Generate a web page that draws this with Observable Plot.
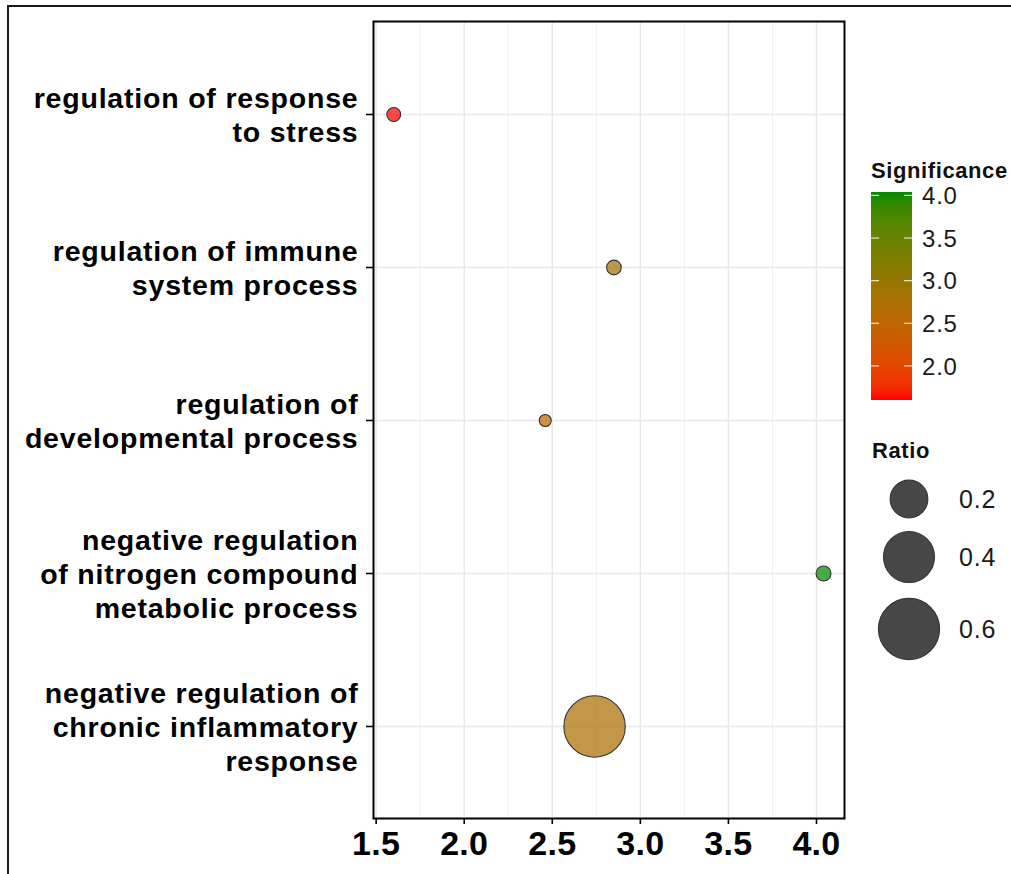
<!DOCTYPE html>
<html>
<head>
<meta charset="utf-8">
<script src="https://cdn.jsdelivr.net/npm/d3@7"></script>
<script src="https://cdn.jsdelivr.net/npm/@observablehq/plot@0.6"></script>
<style>
  html, body { margin: 0; padding: 0; background: #fff; overflow: hidden; }
  #wrap { position: relative; width: 1011px; height: 874px; }
  #frame { position: absolute; left: 7px; top: 5px; width: 1010px; height: 874px;
           border-left: 2px solid #1a1a1a; border-top: 2px solid #1a1a1a; pointer-events: none; }
  svg { font-family: "Liberation Sans", Arial, Helvetica, sans-serif; }
  g[aria-label="y-axis tick label"] text { letter-spacing: 0.8px; }
  g[aria-label="x-axis tick label"] text { letter-spacing: 0.3px; }
</style>
</head>
<body>
<div id="wrap"><div id="frame"></div></div>
<script>
// ---- data ----
const terms = [
  "regulation of response\nto stress",
  "regulation of immune\nsystem process",
  "regulation of\ndevelopmental process",
  "negative regulation\nof nitrogen compound\nmetabolic process",
  "negative regulation of\nchronic inflammatory\nresponse"
];
const significance = [1.60, 2.85, 2.46, 4.04, 2.74];
const ratio = [0.0135, 0.016, 0.008, 0.017, 0.605];
const xTicks = [1.5, 2.0, 2.5, 3.0, 3.5, 4.0];
const xMinorTicks = [1.75, 2.25, 2.75, 3.25, 3.75];
const sigTicks = [2.0, 2.5, 3.0, 3.5, 4.0];
const ratioTicks = [0.2, 0.4, 0.6];

const data = terms.map((t, i) => ({term: t, sig: significance[i], ratio: ratio[i]}));

const plot = Plot.plot({
  width: 1011,
  height: 874,
  marginLeft: 373,
  marginRight: 167,
  marginTop: 21,
  marginBottom: 56,
  style: {fontFamily: '"Liberation Sans", Arial, sans-serif', color: "black", background: "white"},
  x: {domain: [1.485, 4.159], label: null},
  y: {type: "point", domain: terms, padding: 0.6, label: null},
  color: {type: "linear", domain: d3.extent(significance), range: ["#ff0000", "#008b00"], interpolate: "lab"},
  r: {type: "sqrt", domain: [0.008, 0.605], range: [6, 30.7]},
  marks: [
    Plot.ruleX(xMinorTicks, {stroke: "#f0f0f0", strokeWidth: 1}),
    Plot.ruleX(xTicks, {stroke: "#e8e8e8", strokeWidth: 1.4}),
    Plot.ruleY(terms, {stroke: "#e8e8e8", strokeWidth: 1.4}),
    Plot.dot(data, {x: "sig", y: "term", r: "ratio", fill: "sig", fillOpacity: 0.72,
                    stroke: "#333", strokeWidth: 1.1}),
    Plot.frame({stroke: "black", strokeWidth: 2}),
    Plot.axisX(xTicks, {tickSize: 6, tickPadding: 6, fontSize: 34, fontWeight: "bold",
                        tickFormat: d3.format(".1f"), strokeWidth: 1.6, fill: "black"}),
    Plot.axisY(terms, {tickSize: 7, tickPadding: 8, fontSize: 28.5, fontWeight: "bold",
                       lineHeight: 1.19, strokeWidth: 1.6, fill: "black"})
  ]
});

document.getElementById("wrap").prepend(plot);

// ---- legends, drawn with the plot's own scales ----
const svg = d3.select(plot);
const color = plot.scale("color");
const rScale = plot.scale("r");
const [lo, hi] = color.domain;

// colour bar
const barX = 871, barTop = 192, barW = 41, barH = 208;
const defs = svg.append("defs");
const grad = defs.append("linearGradient").attr("id", "sigGrad")
  .attr("x1", 0).attr("y1", 1).attr("x2", 0).attr("y2", 0);
d3.range(0, 1.0001, 0.05).forEach(t => {
  grad.append("stop").attr("offset", t).attr("stop-color", color.apply(lo + t * (hi - lo)));
});
const legY = d3.scaleLinear().domain([lo, hi]).range([barTop + barH, barTop]);

const leg = svg.append("g").attr("text-anchor", "start");
leg.append("text").attr("x", barX).attr("y", 178)
  .attr("font-size", 22).attr("font-weight", "bold").attr("fill", "#111")
  .attr("letter-spacing", "0.6px")
  .text("Significance");
leg.append("rect").attr("x", barX).attr("y", barTop).attr("width", barW).attr("height", barH)
  .attr("fill", "url(#sigGrad)");
sigTicks.forEach(v => {
  const y = legY(v);
  leg.append("line").attr("x1", barX).attr("x2", barX + 8).attr("y1", y).attr("y2", y)
    .attr("stroke", "white").attr("stroke-width", 1.2).attr("opacity", 0.8);
  leg.append("line").attr("x1", barX + barW - 8).attr("x2", barX + barW).attr("y1", y).attr("y2", y)
    .attr("stroke", "white").attr("stroke-width", 1.2).attr("opacity", 0.8);
  leg.append("text").attr("x", 922).attr("y", y).attr("dy", "0.36em")
    .attr("font-size", 24).attr("fill", "#1a1a1a").attr("letter-spacing", "0.8px")
    .text(d3.format(".1f")(v));
});

// size legend
leg.append("text").attr("x", 872).attr("y", 458)
  .attr("font-size", 22).attr("font-weight", "bold").attr("fill", "#111")
  .attr("letter-spacing", "0.6px")
  .text("Ratio");
const sizeY = [499, 557, 629];
ratioTicks.forEach((v, i) => {
  leg.append("circle").attr("cx", 909).attr("cy", sizeY[i]).attr("r", rScale.apply(v))
    .attr("fill", "black").attr("fill-opacity", 0.72).attr("stroke", "#333").attr("stroke-width", 1.1);
  leg.append("text").attr("x", 959).attr("y", sizeY[i]).attr("dy", "0.36em")
    .attr("font-size", 25).attr("fill", "#1a1a1a").attr("letter-spacing", "0.8px")
    .text(d3.format(".1f")(v));
});
</script>
</body>
</html>
